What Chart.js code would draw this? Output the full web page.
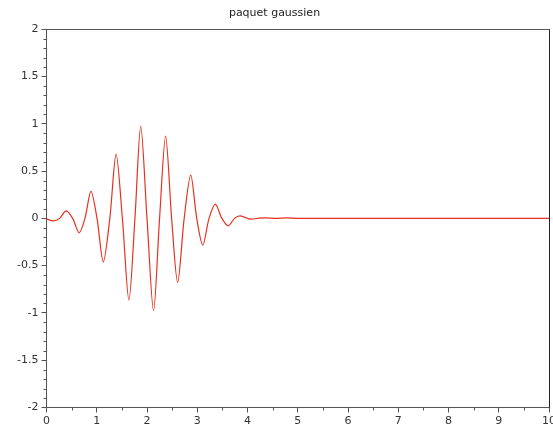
<!DOCTYPE html>
<html>
<head>
<meta charset="utf-8">
<script src="https://cdn.jsdelivr.net/npm/chart.js@4/dist/chart.umd.min.js"></script>
<style>
  html, body { margin: 0; padding: 0; background: #fff; }
  #wrap { width: 553px; height: 432px; }
</style>
</head>
<body>
<div id="wrap"><canvas id="packetChart" width="553" height="432"></canvas></div>
<script>
// values (peaks, troughs, crossings)
const xValues = [0, 0.135, 0.26, 0.39, 0.52, 0.65, 0.765, 0.885, 1.005, 1.13, 1.26, 1.385, 1.51, 1.64, 1.76, 1.875, 2.0, 2.13, 2.25, 2.37, 2.49, 2.61, 2.74, 2.87, 2.99, 3.11, 3.235, 3.36, 3.49, 3.62, 3.74, 3.855, 4.05, 4.2, 4.37, 4.57, 4.77, 5.0, 5.5, 6, 7, 8, 9, 10];
const yValues = [-0.005, -0.026, 0, 0.08, 0, -0.153, 0, 0.285, 0, -0.46, 0, 0.68, 0, -0.864, 0, 0.975, 0, -0.977, 0, 0.869, 0, -0.677, 0, 0.457, 0, -0.283, 0, 0.151, 0, -0.079, 0, 0.027, -0.008, 0, 0.006, 0, 0.006, 0, 0, 0, 0, 0, 0, 0];
const chartTitle = 'paquet gaussien';
const xRange = [0, 10];
const yRange = [-2, 2];

const axisColor = '#555555';
const labelColor = '#333333';
const font = { family: '"DejaVu Sans", sans-serif', size: 11 };

// minor ticks + top/right frame
const framePlugin = {
    id: 'frame',
    afterDraw(chart) {
        const { ctx, chartArea: a, scales } = chart;
        ctx.save();
        ctx.strokeStyle = axisColor;
        ctx.lineWidth = 1;
        ctx.beginPath();
        for (let i = -20; i <= 20; i++) {
            if (i % 5 === 0) continue;
            const py = Math.round(scales.y.getPixelForValue(i / 10)) + 0.5;
            ctx.moveTo(a.left - 3, py); ctx.lineTo(a.left, py);
        }
        for (let i = 0; i < 10; i++) {
            const px = Math.round(scales.x.getPixelForValue(i + 0.5)) + 0.5;
            ctx.moveTo(px, a.bottom); ctx.lineTo(px, a.bottom + 3);
        }
        ctx.stroke();
        ctx.beginPath();
        ctx.moveTo(a.left, Math.round(a.top) + 0.5);
        ctx.lineTo(a.right, Math.round(a.top) + 0.5);
        ctx.stroke();
        ctx.strokeStyle = '#222';
        ctx.beginPath();
        ctx.moveTo(Math.round(a.right) + 0.5, a.top);
        ctx.lineTo(Math.round(a.right) + 0.5, a.bottom);
        ctx.stroke();
        ctx.restore();
    }
};

const pts = xValues.map((x, i) => ({ x: x, y: yValues[i] }));

new Chart(document.getElementById('packetChart'), {
    type: 'line',
    data: {
        datasets: [{
            data: pts,
            borderColor: '#e8301f',
            borderWidth: 1.2,
            pointRadius: 0,
            fill: false,
            tension: 0.3
        }]
    },
    options: {
        responsive: false,
        animation: false,
        layout: { padding: { left: 0, right: 4, top: 0, bottom: 0 } },
        plugins: {
            legend: { display: false },
            tooltip: { enabled: false },
            title: {
                display: true,
                text: chartTitle,
                color: '#222',
                font: { family: font.family, size: 11, weight: 'normal' },
                padding: { top: 7, bottom: 9 }
            }
        },
        scales: {
            x: {
                type: 'linear',
                min: xRange[0], max: xRange[1],
                ticks: { stepSize: 1, color: labelColor, font: font, padding: 2, maxRotation: 0 },
                grid: { drawOnChartArea: false, drawTicks: true, tickLength: 5, color: axisColor },
                border: { color: axisColor, width: 1 },
                afterFit(s) { s.height = 24.5; s.paddingLeft = 0; s.paddingRight = 0; }
            },
            y: {
                min: yRange[0], max: yRange[1],
                ticks: { stepSize: 0.5, color: labelColor, font: font, padding: 3, callback: v => String(v) },
                grid: { drawOnChartArea: false, drawTicks: true, tickLength: 5, color: axisColor },
                border: { color: axisColor, width: 1 },
                afterFit(s) { s.width = 46.5; s.paddingTop = 0; s.paddingBottom = 0; }
            }
        }
    },
    plugins: [framePlugin]
});
</script>
</body>
</html>
